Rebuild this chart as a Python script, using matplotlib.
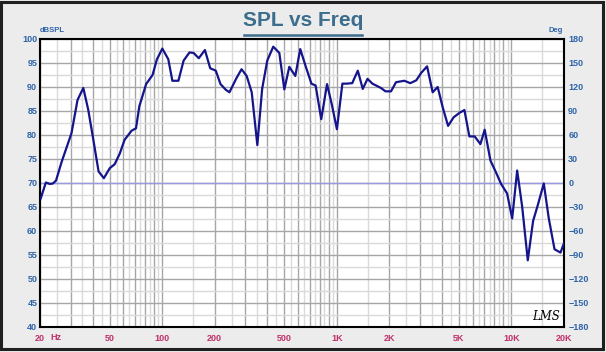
import matplotlib
matplotlib.use('Agg')
import matplotlib.pyplot as plt
from matplotlib.lines import Line2D
from matplotlib.patches import Rectangle
import numpy as np

plt.rcParams['font.family'] = ['Liberation Sans', 'DejaVu Sans']

# SPL curve
freq = [20.2, 21.6, 22.8, 23.7, 24.7, 26.6, 28.4, 30.3, 32.8, 35.4, 37.8, 40.4,
        43.3, 46.4, 50.2, 53.5, 57.2, 61, 66.9, 70.9, 74.1, 81, 88.2, 93.3,
        100.3, 108.5, 114.5, 124, 132.8, 143.5, 151.4, 162.2, 175.9, 188.6,
        203, 216, 232, 243, 267, 285, 305, 326, 351, 374, 400, 433, 469, 501,
        535, 579, 618, 664, 716, 757, 815, 880, 939, 1002, 1077, 1138, 1226,
        1320, 1409, 1500, 1600, 1790, 1900, 2045, 2185, 2438, 2637, 2855,
        3038, 3289, 3541, 3783, 4040, 4338, 4673, 5037, 5380, 5746, 6163,
        6643, 7030, 7583, 8207, 8730, 9451, 10100, 10786, 11520, 12405,
        13310, 14160, 15320, 16370, 17650, 19100, 19960]
spl = [66.8, 70.1, 69.8, 69.9, 70.5, 74.4, 77.4, 80.4, 87.3, 89.8, 85.2, 79.0,
       72.4, 71.0, 73.1, 73.9, 76.1, 79.0, 80.9, 81.4, 86.0, 90.6, 92.5, 95.7,
       98.0, 95.8, 91.3, 91.3, 95.5, 97.2, 97.1, 96.0, 97.7, 93.9,
       93.4, 90.6, 89.4, 88.9, 91.9, 93.7, 92.3, 88.9, 77.9, 89.6, 95.5, 98.4,
       97.1, 89.5, 94.2, 92.3, 97.9, 94.3, 90.7, 90.3, 83.3, 90.6, 86.2, 81.2,
       90.7, 90.7, 90.8, 93.4, 89.6, 91.7, 90.7, 89.8, 89.1, 89.1, 91.0,
       91.3, 90.8, 91.4, 92.9, 94.3, 88.9, 90.0, 85.8, 81.9, 83.7, 84.6,
       85.2, 79.7, 79.7, 78.1, 81.1, 74.7, 72.0, 69.8, 67.8, 62.6, 72.6,
       65.1, 53.9, 62.1, 65.4, 69.9, 62.6, 56.2, 55.5, 57.4]

x_labels = {20: '20', 50: '50', 100: '100', 200: '200', 500: '500',
            1000: '1K', 2000: '2K', 5000: '5K', 10000: '10K', 20000: '20K'}
spl_ticks = list(range(40, 101, 5))
deg_ticks = list(range(-180, 181, 30))

blue_txt = '#2e64a8'
red_txt = '#c0306a'

fig = plt.figure(figsize=(6.06, 3.52), dpi=100, facecolor='#ececec')
W, H = 606, 352
ax = fig.add_axes([40 / W, 1 - 327 / H, 524 / W, 288 / H])
ax.set_facecolor('white')

# grid: dark at integer multiples, light at the halves
major = [m * d for d in (10, 100, 1000) for m in range(2 if d == 10 else 1, 10)] + [10000, 20000]
minor = [(m + 0.5) * d for d in (10, 100, 1000) for m in range(2 if d == 10 else 1, 10)] + [15000]
ax.set_xscale('log')
ax.set_xlim(20, 20000)
ax.set_ylim(40, 100)
ax.set_xticks(major)
ax.set_xticklabels([x_labels.get(int(v), '') for v in major])
ax.set_xticks(minor, minor=True)
ax.set_xticklabels([], minor=True)
ax.set_yticks(spl_ticks)
ax.set_yticks(np.arange(42.5, 100, 5), minor=True)
ax.grid(which='major', color='#a6a6a6', linewidth=1.0)
ax.grid(which='minor', color='#dadada', linewidth=1.0)
ax.set_axisbelow(True)
ax.tick_params(which='both', length=0)
ax.tick_params(axis='x', pad=5, labelsize=6.5, labelcolor=red_txt)
ax.tick_params(axis='y', pad=2, labelsize=6.5, labelcolor=blue_txt)
for lab in ax.get_xticklabels() + ax.get_yticklabels():
    lab.set_fontweight('bold')
for s in ax.spines.values():
    s.set_linewidth(1.5)
    s.set_color('black')

ax.axhline(70, color='#9a9ae0', linewidth=1.0, zorder=2)
ax.plot(freq, spl, color='#14148c', linewidth=1.6, zorder=3)

ax2 = ax.twinx()
ax2.set_ylim(-180, 180)
ax2.set_yticks(deg_ticks)
ax2.tick_params(length=0, pad=3, labelsize=6.5, labelcolor=blue_txt)
for lab in ax2.get_yticklabels():
    lab.set_fontweight('bold')
for s in ax2.spines.values():
    s.set_visible(False)

fig.text(40 / W, 1 - 31 / H, 'dBSPL', color=blue_txt, fontsize=5.5,
         fontweight='bold', ha='left', va='center')
fig.text(563 / W, 1 - 31 / H, 'Deg', color=blue_txt, fontsize=5.5,
         fontweight='bold', ha='right', va='center')
fig.text(50 / W, 1 - 338 / H, 'Hz', color=red_txt, fontsize=6.5,
         fontweight='bold', ha='left', va='center')
fig.text(546 / W, 1 - 316 / H, 'LMS', color='black', fontsize=8.5,
         style='italic', family='DejaVu Serif', ha='center', va='center')

# title with underline
fig.text(0.5, 1 - 20 / H, 'SPL vs Freq', color='#3d6d8c', fontsize=15,
         fontweight='bold', ha='center', va='center')
fig.add_artist(Line2D([244 / W, 362 / W], [1 - 35 / H, 1 - 35 / H],
                      color='#3d6d8c', linewidth=1.8, transform=fig.transFigure))

# outer frame
fig.add_artist(Rectangle((1 / W, 3 / H), 602 / W, 347 / H, fill=False,
                         edgecolor='#202020', linewidth=2.2,
                         transform=fig.transFigure))

fig.savefig('out.png', dpi=100, facecolor=fig.get_facecolor())
